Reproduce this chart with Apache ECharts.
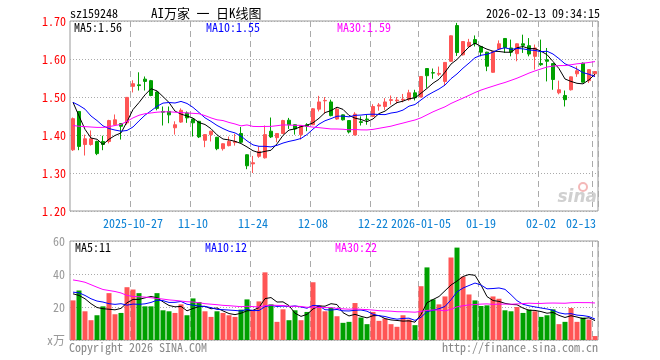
<!DOCTYPE html>
<html>
<head>
<meta charset="utf-8">
<script src="https://cdn.jsdelivr.net/npm/echarts@6/dist/echarts.min.js"></script>
<style>html,body{margin:0;padding:0;background:#fff}#c{width:660px;height:360px}</style>
</head>
<body>
<div id="c"></div>
<script>
const dates = [
'2025-10-13','2025-10-14','2025-10-15','2025-10-16','2025-10-17','2025-10-20','2025-10-21','2025-10-22','2025-10-23','2025-10-24',
'2025-10-27','2025-10-28','2025-10-29','2025-10-30','2025-10-31','2025-11-03','2025-11-04','2025-11-05','2025-11-06','2025-11-07',
'2025-11-10','2025-11-11','2025-11-12','2025-11-13','2025-11-14','2025-11-17','2025-11-18','2025-11-19','2025-11-20','2025-11-21',
'2025-11-24','2025-11-25','2025-11-26','2025-11-27','2025-11-28','2025-12-01','2025-12-02','2025-12-03','2025-12-04','2025-12-05',
'2025-12-08','2025-12-09','2025-12-10','2025-12-11','2025-12-12','2025-12-15','2025-12-16','2025-12-17','2025-12-18','2025-12-19',
'2025-12-22','2025-12-23','2025-12-24','2025-12-25','2025-12-26','2025-12-29','2025-12-30','2025-12-31',
'2026-01-05','2026-01-06','2026-01-07','2026-01-08','2026-01-09','2026-01-12','2026-01-13','2026-01-14','2026-01-15','2026-01-16',
'2026-01-19','2026-01-20','2026-01-21','2026-01-22','2026-01-23','2026-01-26','2026-01-27','2026-01-28','2026-01-29','2026-01-30',
'2026-02-02','2026-02-03','2026-02-04','2026-02-05','2026-02-06','2026-02-09','2026-02-10','2026-02-11','2026-02-12','2026-02-13'];

const opens = [1.361,1.462,1.375,1.375,1.383,1.383,1.383,1.427,1.430,1.432,
1.528,1.532,1.547,1.543,1.513,1.462,1.462,1.419,1.434,1.458,
1.442,1.436,1.386,1.401,1.394,1.364,1.372,1.380,1.404,1.348,
1.324,1.344,1.340,1.410,1.393,1.404,1.439,1.427,1.401,1.427,
1.427,1.468,1.490,1.487,1.442,1.453,1.438,1.400,1.435,1.442,
1.449,1.476,1.475,1.491,1.490,1.492,1.493,1.511,1.500,1.575,
1.564,1.560,1.541,1.594,1.688,1.611,1.633,1.651,1.633,1.618,
1.565,1.626,1.654,1.629,1.614,1.640,1.635,1.607,1.588,1.598,
1.588,1.511,1.504,1.519,1.561,1.589,1.543,1.561];

const closes = [1.443,1.370,1.390,1.390,1.351,1.375,1.438,1.440,1.423,1.499,
1.535,1.530,1.541,1.504,1.470,1.460,1.453,1.427,1.465,1.445,
1.432,1.395,1.401,1.410,1.364,1.377,1.383,1.383,1.381,1.319,
1.327,1.357,1.401,1.395,1.404,1.438,1.427,1.416,1.425,1.423,
1.469,1.487,1.491,1.451,1.468,1.440,1.408,1.455,1.433,1.440,
1.475,1.479,1.487,1.493,1.492,1.494,1.511,1.498,1.554,1.556,
1.563,1.562,1.591,1.661,1.617,1.646,1.644,1.640,1.618,1.581,
1.620,1.640,1.630,1.618,1.640,1.636,1.613,1.629,1.585,1.594,
1.546,1.519,1.493,1.553,1.569,1.539,1.572,1.567];

const lows = [1.358,1.360,1.346,1.372,1.347,1.360,1.378,1.425,1.388,1.427,
1.512,1.517,1.517,1.502,1.465,1.425,1.431,1.401,1.432,1.432,
1.396,1.392,1.368,1.383,1.360,1.359,1.370,1.372,1.379,1.310,
1.300,1.340,1.338,1.392,1.381,1.403,1.416,1.401,1.388,1.410,
1.426,1.462,1.456,1.449,1.440,1.438,1.404,1.399,1.425,1.427,
1.447,1.464,1.466,1.480,1.483,1.486,1.490,1.491,1.499,1.524,
1.548,1.555,1.530,1.593,1.608,1.609,1.632,1.633,1.607,1.568,
1.564,1.625,1.616,1.607,1.594,1.616,1.607,1.572,1.582,1.541,
1.519,1.507,1.475,1.517,1.553,1.538,1.537,1.553];

const highs = [1.446,1.463,1.401,1.412,1.385,1.398,1.440,1.454,1.431,1.500,
1.544,1.565,1.554,1.545,1.515,1.475,1.475,1.436,1.470,1.462,
1.443,1.437,1.402,1.411,1.395,1.378,1.396,1.403,1.421,1.349,
1.345,1.370,1.425,1.446,1.405,1.440,1.445,1.428,1.426,1.431,
1.471,1.503,1.500,1.493,1.473,1.454,1.439,1.460,1.449,1.453,
1.481,1.484,1.497,1.504,1.500,1.508,1.519,1.519,1.555,1.576,
1.575,1.580,1.592,1.662,1.695,1.647,1.653,1.662,1.634,1.619,
1.621,1.649,1.655,1.651,1.641,1.664,1.655,1.638,1.651,1.629,
1.589,1.543,1.517,1.554,1.581,1.591,1.573,1.568];

const volumes = [24,30,17.4,12,15,20.4,28.4,15.6,16.4,32,
30.6,28.4,20.4,20.4,28.4,18,17.4,16.4,21.6,15,
25.2,23,17.4,14,17.4,16.4,15,14,18.4,24.6,
18,23.4,41,21.6,11,18.6,12,18,12,17,
35,21,17.4,19.6,14.4,10.4,11,22.4,13.6,9.6,
17,11.6,13,9.6,8,15,12.4,9,32.6,44,
24.6,21.6,26.4,50,56,38.4,27.6,24,20.6,21,
26.4,25,18,17.4,20,16.4,18.4,17.4,14,15,
18.6,9.6,11,19.4,11,13.6,12.4,2.4];

// moving-average values before enough bars exist
const ma5Head = [1.486,1.450,1.415,1.392];
const ma10Head = [1.486,1.478,1.468,1.450,1.438,1.424,1.417,1.413,1.410];
const ma30Head = [1.425,1.423,1.422,1.421,1.420,1.420,1.422,1.425,1.428,1.436,
1.445,1.452,1.456,1.458,1.460,1.461,1.461,1.460,1.459,1.458,
1.457,1.456,1.451,1.445,1.440,1.438,1.433,1.429,1.424];
const volMa5Head = [28,27,25,22];
const volMa10Head = [29,28.6,27,25,23.6,23,22,21.6,22];
const volMa30Head = [36.4,35.8,35,33.5,32,30.6,30,29.4,28.5,27,
26.4,26.2,26,25.6,25.2,24.8,24.3,24,23.6,23.2,
23,22.6,22,21.7,21.4,21,20.8,20.5,20.2];

const tickIdx = [10,20,30,40,50,58,68,78,87];
const tickText = ['2025-10-27','11-10','11-24','12-08','12-22','2026-01-05','01-19','02-02','02-13'];
const priceLegend = ['MA5:1.56','MA10:1.55','MA30:1.59'];
const volLegend = ['MA5:11','MA10:12','MA30:22'];
const titleCode = 'sz159248';
const titleName = 'AI万家 一 日K线图';
const titleTime = '2026-02-13 09:34:15';

function movingAvg(vals, n, head) {
  return vals.map((v, i) => {
    if (i < n - 1) return head[i];
    let s = 0;
    for (let k = i - n + 1; k <= i; k++) s += vals[k];
    return +(s / n).toFixed(4);
  });
}

const MONO = '"Noto Sans Mono CJK SC","DejaVu Sans Mono",monospace';
const RED = '#ff5555', GREEN = '#00a000';
const candles = opens.map((o, i) => [o, closes[i], lows[i], highs[i]]);
const volData = volumes.map((v, i) => ({value: v, itemStyle: {color: closes[i] >= opens[i] ? RED : GREEN}}));
const isTick = (idx) => tickIdx.indexOf(idx) >= 0;

const chart = echarts.init(document.getElementById('c'), null, {renderer: 'canvas'});
function txt(t, x, y, color, align, size, fam) {
  return {type: 'text', x: x, y: y, z: 100, style: {text: t, fill: color, font: (size || 12) + 'px ' + (fam || MONO),
    align: align || 'left', textAlign: align || 'left', verticalAlign: 'middle', textVerticalAlign: 'middle'}};
}
const vSplit = {show: true, interval: isTick, lineStyle: {color: '#aaa', type: [6, 4], width: 1}};
const hSplit = {show: true, lineStyle: {color: '#aaa', type: [1, 2], width: 1}};
const lineS = (name, data, color, xi, yi) => ({type: 'line', name: name, data: data, xAxisIndex: xi, yAxisIndex: yi,
  symbol: 'none', smooth: false, z: 5, lineStyle: {color: color, width: 1}, itemStyle: {color: color}});

chart.setOption({
  animation: false,
  backgroundColor: '#fff',
  grid: [
    {left: 70, top: 21, width: 528, height: 190, show: true, borderColor: '#999', borderWidth: 1},
    {left: 70, top: 241, width: 528, height: 99, show: true, borderColor: '#999', borderWidth: 1}
  ],
  xAxis: [
    {type: 'category', gridIndex: 0, data: dates, boundaryGap: true,
      axisLine: {show: false}, axisTick: {show: false},
      axisLabel: {interval: isTick, color: '#0a80d4', fontSize: 12, fontFamily: MONO, margin: 6,
        formatter: (v, i) => { const k = tickIdx.indexOf(i); const t = k >= 0 ? tickText[k] : ''; return i === 87 ? '{r|' + t + '}' : t; },
        rich: {r: {padding: [0, 28, 0, 0], color: '#0a80d4', fontSize: 12, fontFamily: MONO}}},
      splitLine: vSplit},
    {type: 'category', gridIndex: 1, data: dates, boundaryGap: true,
      axisLine: {show: false}, axisTick: {show: false}, axisLabel: {show: false}, splitLine: vSplit}
  ],
  yAxis: [
    {type: 'value', gridIndex: 0, min: 1.2, max: 1.7, interval: 0.1, scale: true,
      axisLine: {show: false}, axisTick: {show: false},
      axisLabel: {formatter: v => v.toFixed(2), color: '#ff0000', fontSize: 12, fontFamily: MONO, margin: 4},
      splitLine: hSplit},
    {type: 'value', gridIndex: 1, min: 0, max: 60, interval: 20,
      axisLine: {show: false}, axisTick: {show: false},
      axisLabel: {formatter: v => v === 0 ? 'x万' : String(v), color: '#999', fontSize: 12, fontFamily: MONO, margin: 5},
      splitLine: hSplit}
  ],
  series: [
    {type: 'candlestick', name: 'K', data: candles, xAxisIndex: 0, yAxisIndex: 0, barWidth: 4, z: 3,
      itemStyle: {color: RED, color0: GREEN, borderColor: RED, borderColor0: GREEN, borderWidth: 1}},
    lineS('MA5', movingAvg(closes, 5, ma5Head), '#000000', 0, 0),
    lineS('MA10', movingAvg(closes, 10, ma10Head), '#0000ff', 0, 0),
    lineS('MA30', movingAvg(closes, 30, ma30Head), '#ff00ff', 0, 0),
    {type: 'bar', name: 'VOL', data: volData, xAxisIndex: 1, yAxisIndex: 1, barWidth: 5, z: 3},
    lineS('VMA5', movingAvg(volumes, 5, volMa5Head), '#000000', 1, 1),
    lineS('VMA10', movingAvg(volumes, 10, volMa10Head), '#0000ff', 1, 1),
    lineS('VMA30', movingAvg(volumes, 30, volMa30Head), '#ff00ff', 1, 1)
  ],
  graphic: [
    txt(titleCode, 70, 13, '#000', 'left'),
    txt(titleName, 151, 13, '#000', 'left', 13),
    txt(titleTime, 600, 13, '#000', 'right'),
    txt(priceLegend[0], 74, 27, '#000'),
    txt(priceLegend[1], 206, 27, '#0000ff'),
    txt(priceLegend[2], 337, 27, '#ff00ff'),
    txt(volLegend[0], 75, 247, '#000'),
    txt(volLegend[1], 205, 247, '#0000ff'),
    txt(volLegend[2], 335, 247, '#ff00ff'),
    txt('Copyright 2026 SINA.COM', 69, 347, '#888'),
    txt('http://finance.sina.com.cn', 598, 347, '#888', 'right'),
    {type: 'circle', z: 90, shape: {cx: 583, cy: 187, r: 4}, style: {fill: 'none', stroke: '#f4b8b8', lineWidth: 2}},
    {type: 'text', x: 597, y: 198, z: 90, style: {text: 'sina', fill: '#d0d0d0', font: 'italic bold 17px "DejaVu Sans"',
      align: 'right', textAlign: 'right', verticalAlign: 'middle', textVerticalAlign: 'middle'}}
  ]
});
</script>
</body>
</html>
